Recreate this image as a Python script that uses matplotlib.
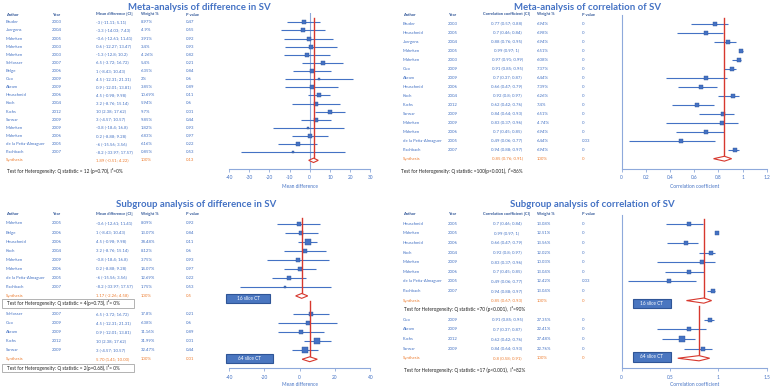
import numpy as np
import matplotlib
matplotlib.use("Agg")
import matplotlib.pyplot as plt
from matplotlib.patches import Polygon, Rectangle

# ---- top left: meta-analysis of difference in SV
md_author = ["Bruder", "Juergens", "Mahnken", "Mahnken", "Mahnken", "Schlosser", "Belge", "Guo", "Akram",
             "Heuschmid", "Koch", "Fuchs", "Sarwar", "Mahnken", "Mahnken", "de la Peña-Almaguer", "Fischbach"]
md_year = [2003, 2004, 2005, 2003, 2003, 2007, 2006, 2009, 2009, 2006, 2004, 2012, 2009, 2009, 2006, 2005, 2007]
md_est = [-3, -3.3, -0.6, 0.6, -1.3, 6.5, 1, 4.5, 0.9, 4.5, 3.2, 10, 3, -0.8, 0.2, -6, -8.2]
md_lo = [-11.11, -14.03, -12.61, -12.27, -12.8, -3.72, -8.43, -12.31, -12.01, -0.98, -8.76, 2.38, -4.57, -18.4, -8.88, -15.56, -33.97]
md_hi = [5.11, 7.43, 11.41, 13.47, 10.2, 16.72, 10.43, 21.31, 13.81, 9.98, 15.14, 17.62, 10.57, 16.8, 9.28, 3.56, 17.57]
md_w = [8.97, 4.9, 3.91, 3.4, 4.26, 5.4, 6.35, 2, 3.85, 10.69, 5.94, 9.7, 9.85, 1.82, 6.83, 6.16, 0.85]
md_p = [0.47, 0.55, 0.92, 0.93, 0.82, 0.21, 0.84, 0.6, 0.89, 0.11, 0.6, 0.01, 0.44, 0.93, 0.97, 0.22, 0.53]
md_syn = [1.89, -0.51, 4.22, 0.13]
md_syn_txt = "1.89 (-0.51; 4.22)"
md_het = "Test for Heterogeneity: Q statistic = 12 (p=0.70), I²=0%"

# ---- top right: meta-analysis of correlation of SV
cc_author = ["Bruder", "Heuschmid", "Juergens", "Mahnken", "Mahnken", "Guo", "Akram", "Heuschmid", "Koch",
             "Fuchs", "Sarwar", "Mahnken", "Mahnken", "de la Peña-Almaguer", "Fischbach"]
cc_year = [2003, 2005, 2004, 2005, 2003, 2009, 2009, 2006, 2004, 2012, 2009, 2009, 2006, 2005, 2007]
cc_est = [0.77, 0.7, 0.88, 0.99, 0.97, 0.91, 0.7, 0.66, 0.92, 0.62, 0.84, 0.83, 0.7, 0.49, 0.94]
cc_lo = [0.57, 0.46, 0.76, 0.97, 0.91, 0.85, 0.37, 0.47, 0.8, 0.42, 0.64, 0.37, 0.45, 0.06, 0.88]
cc_hi = [0.88, 0.84, 0.95, 1, 0.99, 0.95, 0.87, 0.79, 0.97, 0.76, 0.93, 0.96, 0.85, 0.77, 0.97]
cc_w = [6.94, 6.98, 6.94, 6.51, 6.08, 7.37, 6.44, 7.39, 6.26, 7.4, 6.51, 4.74, 6.94, 6.44, 6.94]
cc_p = [0, 0, 0, 0, 0, 0, 0, 0, 0, 0, 0, 0, 0, 0.03, 0]
cc_syn = [0.85, 0.76, 0.91, 0]
cc_syn_txt = "0.85 (0.76; 0.91)"
cc_het = "Test for Heterogeneity: Q statistic =100(p<0.001), I²=86%"

# ---- bottom left: subgroups, difference in SV
sd16_author = ["Mahnken", "Belge", "Heuschmid", "Koch", "Mahnken", "Mahnken", "de la Peña-Almaguer", "Fischbach"]
sd16_year = [2005, 2006, 2006, 2004, 2009, 2006, 2005, 2007]
sd16_est = [-0.6, 1, 4.5, 3.2, -0.8, 0.2, -6, -8.2]
sd16_lo = [-12.61, -8.43, -0.98, -8.76, -18.4, -8.88, -15.56, -33.97]
sd16_hi = [11.41, 10.43, 9.98, 15.14, 16.8, 9.28, 3.56, 17.57]
sd16_w = [8.09, 13.07, 38.48, 8.12, 3.75, 14.07, 12.69, 1.75]
sd16_p = [0.92, 0.84, 0.11, 0.6, 0.93, 0.97, 0.22, 0.53]
sd16_syn = [1.17, -2.26, 4.58, 0.5]
sd16_syn_txt = "1.17 (-2.26; 4.58)"
sd16_het = "Test for Heterogeneity: Q statistic = 4(p=0.73), I²= 0%"

sd64_author = ["Schlosser", "Guo", "Akram", "Fuchs", "Sarwar"]
sd64_year = [2007, 2009, 2009, 2012, 2009]
sd64_est = [6.5, 4.5, 0.9, 10, 3]
sd64_lo = [-3.72, -12.31, -12.01, 2.38, -4.57]
sd64_hi = [16.72, 21.31, 13.81, 17.62, 10.57]
sd64_w = [17.8, 6.38, 11.16, 31.99, 32.47]
sd64_p = [0.21, 0.6, 0.89, 0.01, 0.44]
sd64_syn = [5.70, 1.41, 10.00, 0.01]
sd64_syn_txt = "5.70 (1.41; 10.00)"
sd64_het = "Test for Heterogeneity: Q statistic = 2(p=0.68), I²= 0%"

# ---- bottom right: subgroups, correlation of SV
sc16_author = ["Heuschmid", "Mahnken", "Heuschmid", "Koch", "Mahnken", "Mahnken", "de la Peña-Almaguer", "Fischbach"]
sc16_year = [2005, 2005, 2006, 2004, 2009, 2006, 2005, 2007]
sc16_est = [0.7, 0.99, 0.66, 0.92, 0.83, 0.7, 0.49, 0.94]
sc16_lo = [0.46, 0.97, 0.47, 0.8, 0.37, 0.45, 0.06, 0.88]
sc16_hi = [0.84, 1, 0.79, 0.97, 0.96, 0.85, 0.77, 0.97]
sc16_w = [13.08, 12.51, 13.56, 12.02, 10.03, 13.04, 12.42, 13.04]
sc16_p = [0, 0, 0, 0, 0, 0, 0.03, 0]
sc16_syn = [0.85, 0.67, 0.93, 0]
sc16_syn_txt = "0.85 (0.67; 0.93)"
sc16_het = "Test for Heterogeneity: Q statistic =70 (p<0.001),  I²=90%"

sc64_author = ["Guo", "Akram", "Fuchs", "Sarwar"]
sc64_year = [2009, 2009, 2012, 2009]
sc64_est = [0.91, 0.7, 0.62, 0.84]
sc64_lo = [0.85, 0.37, 0.42, 0.64]
sc64_hi = [0.95, 0.87, 0.76, 0.93]
sc64_w = [27.35, 22.41, 27.48, 22.76]
sc64_p = [0, 0, 0, 0]
sc64_syn = [0.8, 0.58, 0.91, 0]
sc64_syn_txt = "0.8 (0.58; 0.91)"
sc64_het = "Test for Heterogeneity: Q statistic =17 (p<0.001),  I²=82%"

W, H = 771, 387
BLUE = "#4472C4"
DARK = "#2F5597"
AXC = "#8EA9DB"
RED = "#D7382E"
ORANGE = "#ED7D31"
FS = 3.1
TFS = 6.9

plt.rcParams['font.family'] = ['Lato', 'DejaVu Sans']
fig = plt.figure(figsize=(7.71, 3.87), dpi=100)


def T(x, y, s, **kw):
    kw.setdefault('va', 'center')
    kw.setdefault('fontsize', FS)
    fig.text(x / W, 1 - y / H, s, **kw)


def fmt(v):
    return f"{v:g}"


def header(cols, y, ci_name, ci_ha):
    names = ["Author", "Year", ci_name, "Weight %", "P value"]
    for i, (c, n) in enumerate(zip(cols, names)):
        T(c, y, n, color=DARK, ha=ci_ha if i == 2 else 'left', fontweight='bold', fontsize=FS - 0.2)


def rows(cols, y0, dy, start, author, year, est, lo, hi, w, p, ci_ha):
    for i in range(len(author)):
        y = y0 + (start + i) * dy
        ci = f"{fmt(est[i])} ({fmt(lo[i])}; {fmt(hi[i])})"
        T(cols[0], y, author[i], color=BLUE)
        T(cols[1], y, str(year[i]), color=BLUE)
        T(cols[2], y, ci, color=BLUE, ha=ci_ha)
        T(cols[3], y, fmt(w[i]) + "%", color=BLUE)
        T(cols[4], y, fmt(p[i]), color=BLUE)


def synth(cols, y, txt, p, ci_ha):
    T(cols[0], y, "Synthesis", color=ORANGE)
    T(cols[2], y, txt, color=ORANGE, ha=ci_ha)
    T(cols[3], y, "100%", color=ORANGE)
    T(cols[4], y, fmt(p), color=ORANGE)


def forest_ax(x0, x1, ytop, ybot, xlim, ticks, y0, dy, xlabel, left=False, lpad=3):
    ax = fig.add_axes([x0 / W, 1 - ybot / H, (x1 - x0) / W, (ybot - ytop) / H])
    ax.set_xlim(*xlim)
    ax.set_ylim((ybot - y0) / dy, (ytop - y0) / dy)
    ax.patch.set_alpha(0)
    for s in ['top', 'right']:
        ax.spines[s].set_visible(False)
    ax.spines['left'].set_visible(left)
    ax.spines['left'].set_color(AXC)
    ax.spines['bottom'].set_color(AXC)
    ax.spines['left'].set_linewidth(0.8)
    ax.spines['bottom'].set_linewidth(0.8)
    ax.set_yticks([])
    ax.set_xticks(ticks)
    ax.set_xticklabels([fmt(t) for t in ticks])
    ax.tick_params(axis='x', length=2, width=0.6, color=AXC, labelsize=3.4, labelcolor=BLUE, pad=2.5)
    ax.set_xlabel(xlabel, fontsize=3.5, color=BLUE, labelpad=lpad)
    return ax


def forest(ax, start, est, lo, hi, w):
    for i in range(len(est)):
        r = start + i
        ax.plot([lo[i], hi[i]], [r, r], color=BLUE, lw=0.8, zorder=2, solid_capstyle='butt')
        ax.plot(est[i], r, 's', ms=1.4 + 0.42 * np.sqrt(w[i]), color=BLUE, mec=DARK, mew=0.3, zorder=3)


def diamond(ax, r, syn, top):
    e, l, h = syn[0], syn[1], syn[2]
    ax.plot([e, e], [top, r], color=RED, lw=1.0, zorder=4)
    ax.add_patch(Polygon([[l, r], [e, r - 0.27], [h, r], [e, r + 0.27]], closed=True,
                         fc='white', ec=RED, lw=0.8, zorder=5))


def tag(x0, x1, y0, y1, s):
    fig.add_artist(Rectangle((x0 / W, 1 - y1 / H), (x1 - x0) / W, (y1 - y0) / H, transform=fig.transFigure,
                             fc="#4A76C0", ec=DARK, lw=0.8))
    T((x0 + x1) / 2, (y0 + y1) / 2, s, color='white', ha='center', fontsize=3.4)


def hetbox(x0, x1, y0, y1):
    fig.add_artist(Rectangle((x0 / W, 1 - y1 / H), (x1 - x0) / W, (y1 - y0) / H, transform=fig.transFigure,
                             fc='none', ec='#A6A6A6', lw=0.6))


# ---------------- top left
colsL = [6, 52, 96, 141, 186]
T(199, 8, "Meta-analysis of difference in SV", color=BLUE, fontsize=TFS, fontweight='bold', ha='center')
header(colsL, 14.5, "Mean difference [CI]", 'left')
rows(colsL, 22.3, 8.12, 0, md_author, md_year, md_est, md_lo, md_hi, md_w, md_p, 'left')
synth(colsL, 22.3 + 17 * 8.12, md_syn_txt, md_syn[3], 'left')
T(7, 171, md_het, color='#222222', fontsize=3.4)

ax1 = forest_ax(229, 370.3, 13.3, 168.7, (-40, 30), [-40, -30, -20, -10, 0, 10, 20, 30], 22.3, 8.12, "Mean difference")
ax1.axvline(0, color=AXC, lw=0.8, zorder=1)
forest(ax1, 0, md_est, md_lo, md_hi, md_w)
diamond(ax1, 17, md_syn, -0.5)

# ---------------- top right
colsR = [403, 448, 507, 537, 582]
T(587, 8, "Meta-analysis of correlation of SV", color=BLUE, fontsize=TFS, fontweight='bold', ha='center')
header(colsR, 14.5, "Correlation coefficient [CI]", 'center')
rows(colsR, 23.7, 9.0, 0, cc_author, cc_year, cc_est, cc_lo, cc_hi, cc_w, cc_p, 'center')
synth(colsR, 23.7 + 15 * 9.0, cc_syn_txt, cc_syn[3], 'center')
T(401, 170.7, cc_het, color='#222222', fontsize=3.4)

ax2 = forest_ax(621.7, 766.7, 15, 168.7, (0, 1.2), [0, 0.2, 0.4, 0.6, 0.8, 1, 1.2], 23.7, 9.0,
                "Correlation coefficient", left=True)
forest(ax2, 0, cc_est, cc_lo, cc_hi, cc_w)
diamond(ax2, 15, cc_syn, -0.6)

# ---------------- bottom left
T(196, 204.5, "Subgroup analysis of difference in SV", color=BLUE, fontsize=TFS, fontweight='bold', ha='center')
header(colsL, 214.3, "Mean difference [CI]", 'left')
dy3 = 9.05
rows(colsL, 223.5, dy3, 0, sd16_author, sd16_year, sd16_est, sd16_lo, sd16_hi, sd16_w, sd16_p, 'left')
synth(colsL, 223.5 + 8 * dy3, sd16_syn_txt, sd16_syn[3], 'left')
hetbox(2, 134, 299.3, 307.5)
T(7, 303.4, sd16_het, color='#222222', fontsize=3.4)
rows(colsL, 223.5, dy3, 10, sd64_author, sd64_year, sd64_est, sd64_lo, sd64_hi, sd64_w, sd64_p, 'left')
synth(colsL, 223.5 + 15 * dy3, sd64_syn_txt, sd64_syn[3], 'left')
hetbox(2, 134, 363.7, 371.9)
T(7, 367.8, sd64_het, color='#222222', fontsize=3.4)

ax3 = forest_ax(229, 370.3, 215, 368.3, (-40, 40), [-40, -20, 0, 20, 40], 223.5, dy3, "Mean difference", lpad=1.5)
forest(ax3, 0, sd16_est, sd16_lo, sd16_hi, sd16_w)
diamond(ax3, 8, sd16_syn, -0.6)
forest(ax3, 10, sd64_est, sd64_lo, sd64_hi, sd64_w)
diamond(ax3, 15, sd64_syn, 8.6)
tag(226, 270, 293.7, 303.3, "16 slice CT")
tag(226, 273, 353.7, 362.7, "64 slice CT")

# ---------------- bottom right
T(592, 204.5, "Subgroup analysis of correlation of SV", color=BLUE, fontsize=TFS, fontweight='bold', ha='center')
header(colsR, 214.3, "Correlation coefficient [CI]", 'center')
dy4 = 9.61
rows(colsR, 223.7, dy4, 0, sc16_author, sc16_year, sc16_est, sc16_lo, sc16_hi, sc16_w, sc16_p, 'center')
synth(colsR, 223.7 + 8 * dy4, sc16_syn_txt, sc16_syn[3], 'center')
T(404, 309.3, sc16_het, color='#222222', fontsize=3.4)
rows(colsR, 223.7, dy4, 10, sc64_author, sc64_year, sc64_est, sc64_lo, sc64_hi, sc64_w, sc64_p, 'center')
synth(colsR, 223.7 + 14 * dy4, sc64_syn_txt, sc64_syn[3], 'center')
T(404, 369.7, sc64_het, color='#222222', fontsize=3.4)

ax4 = forest_ax(621.7, 766.7, 215, 368.3, (0, 1.5), [0, 0.5, 1, 1.5], 223.7, dy4,
                "Correlation coefficient", left=True, lpad=1.5)
forest(ax4, 0, sc16_est, sc16_lo, sc16_hi, sc16_w)
diamond(ax4, 8, sc16_syn, -0.5)
forest(ax4, 10, sc64_est, sc64_lo, sc64_hi, sc64_w)
diamond(ax4, 14, sc64_syn, 8.6)
tag(633, 671, 299, 308, "16 slice CT")
tag(633, 671, 352, 362, "64 slice CT")

fig.savefig("out.png", dpi=100)
